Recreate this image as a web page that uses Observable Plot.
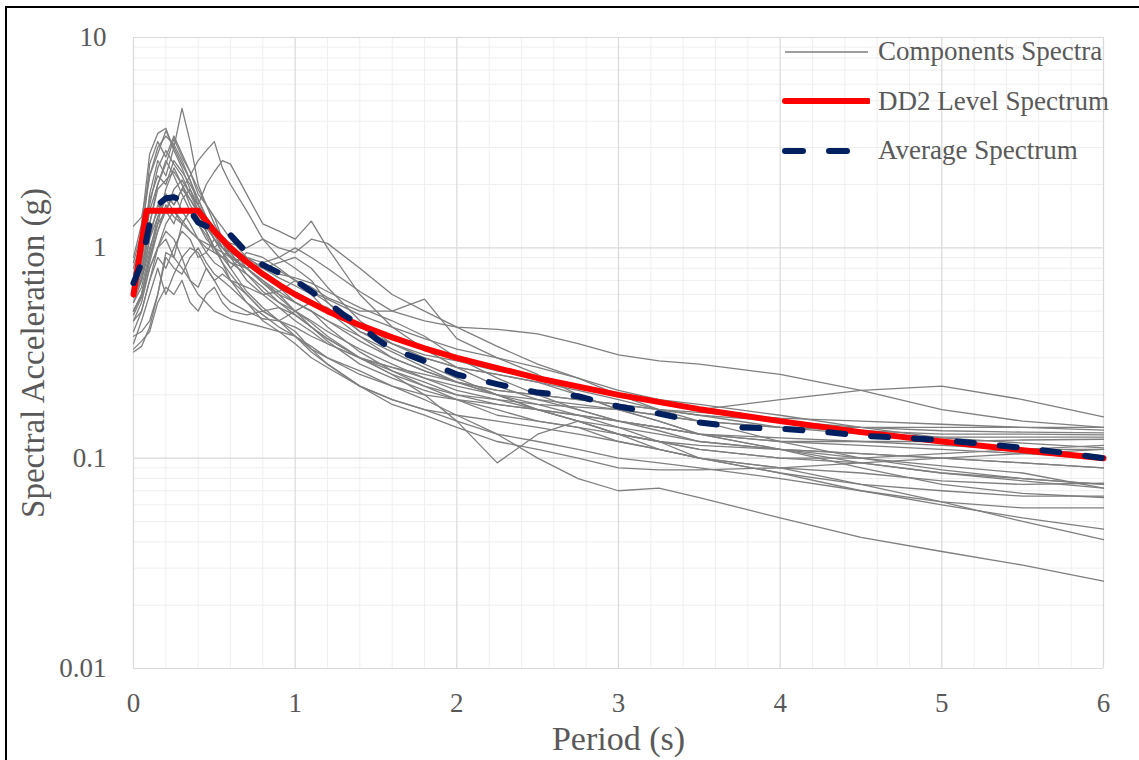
<!DOCTYPE html>
<html>
<head>
<meta charset="utf-8">
<script src="https://cdn.jsdelivr.net/npm/d3@7"></script>
<script src="https://cdn.jsdelivr.net/npm/@observablehq/plot@0.6"></script>
<style>
  html, body { margin: 0; padding: 0; background: #fff; }
  #wrap { position: relative; width: 1139px; height: 760px; overflow: hidden; font-family: "Liberation Serif", "Times New Roman", serif; }
  #frameTop { position: absolute; left: 5px; top: 6px; width: 1134px; height: 0; border-top: 2px solid #000; }
  #frameLeft { position: absolute; left: 5px; top: 6px; width: 0; height: 754px; border-left: 2px solid #000; }
  #legend { position: absolute; left: 782px; top: 27px; font-size: 27px; color: #595959; }
  #legend .row { display: flex; align-items: center; height: 49.5px; }
  #legend svg { display: block; margin-right: 8px; }
</style>
</head>
<body>
<div id="wrap">
  <div id="chart"></div>
  <div id="frameTop"></div>
  <div id="frameLeft"></div>
  <div id="legend"></div>
</div>
<script>
// ---------- data ----------
const periods = [0, 0.05, 0.1, 0.15, 0.2, 0.25, 0.3, 0.35, 0.4, 0.45, 0.5, 0.55, 0.6, 0.7, 0.8, 0.9, 1.0, 1.1, 1.2, 1.4, 1.6, 1.8, 2.0, 2.25, 2.5, 2.75, 3.0, 3.25, 3.5, 4.0, 4.5, 5.0, 5.5, 6.0];

const comp01 = [0.7,0.9,1.8,2.6,2.2,3.0,4.6,3.2,2.0,1.6,1.4,1.1,1.0,0.8,0.7,0.62,0.55,0.5,0.42,0.32,0.26,0.22,0.19,0.16,0.15,0.14,0.13,0.12,0.115,0.11,0.105,0.1,0.095,0.09];
const comp02 = [0.6,0.75,1.2,1.5,1.8,1.6,1.9,2.2,2.6,2.9,3.2,2.4,2.0,1.5,1.1,0.9,0.8,0.7,0.55,0.4,0.33,0.28,0.24,0.2,0.17,0.15,0.13,0.12,0.11,0.1,0.095,0.085,0.08,0.075];
const comp03 = [0.5,0.6,0.9,1.2,1.5,1.3,1.7,1.9,1.6,2.0,2.3,2.6,2.5,1.8,1.3,1.2,1.1,1.34,1.0,0.6,0.42,0.33,0.27,0.22,0.19,0.17,0.15,0.135,0.12,0.11,0.1,0.092,0.085,0.072];
const comp04 = [0.9,1.3,2.8,3.5,3.7,2.9,2.4,1.9,1.5,1.2,1.0,0.85,0.75,0.6,0.5,0.45,0.4,0.33,0.28,0.22,0.19,0.17,0.15,0.13,0.12,0.11,0.1,0.095,0.09,0.08,0.07,0.062,0.058,0.058];
const comp05 = [0.8,1.1,2.5,3.2,2.7,3.4,2.8,2.3,1.8,1.6,1.3,1.1,0.95,0.75,0.62,0.55,0.5,0.45,0.4,0.33,0.28,0.24,0.22,0.2,0.19,0.18,0.17,0.16,0.15,0.14,0.135,0.13,0.13,0.129];
const comp06 = [1.27,1.4,2.2,3.0,3.4,3.1,2.6,2.1,1.7,1.4,1.25,1.05,0.9,0.7,0.6,0.52,0.45,0.4,0.35,0.3,0.27,0.25,0.23,0.21,0.2,0.19,0.18,0.17,0.165,0.155,0.15,0.145,0.14,0.136];
const comp07 = [0.32,0.34,0.42,0.6,0.9,0.8,0.75,0.9,1.0,0.85,0.75,0.7,0.65,0.55,0.48,0.42,0.38,0.33,0.3,0.26,0.22,0.19,0.16,0.13,0.1,0.08,0.07,0.072,0.065,0.052,0.042,0.036,0.031,0.026];
const comp08 = [0.35,0.45,0.6,0.8,0.6,0.75,0.9,0.7,0.65,0.8,0.7,0.6,0.55,0.5,0.46,0.45,0.5,0.55,0.52,0.4,0.35,0.31,0.29,0.26,0.24,0.22,0.2,0.19,0.17,0.19,0.21,0.22,0.19,0.157];
const comp09 = [0.6,0.7,1.1,1.4,1.7,1.5,1.3,1.2,1.1,1.0,0.95,0.9,0.85,0.8,0.85,0.9,1.0,0.9,0.8,0.62,0.5,0.45,0.42,0.41,0.39,0.35,0.31,0.29,0.28,0.25,0.21,0.17,0.15,0.14];
const comp10 = [0.45,0.55,0.8,1.0,1.2,1.1,0.9,1.0,0.95,0.8,0.7,0.75,0.7,0.65,0.6,0.62,0.7,0.65,0.58,0.5,0.5,0.57,0.37,0.3,0.25,0.2,0.17,0.15,0.13,0.11,0.09,0.075,0.068,0.065];
const comp11 = [0.55,0.7,1.0,1.3,1.5,1.8,1.5,1.3,1.1,0.95,0.85,0.8,0.7,0.6,0.5,0.45,0.42,0.38,0.35,0.3,0.25,0.2,0.15,0.095,0.13,0.15,0.14,0.13,0.12,0.11,0.105,0.1,0.095,0.09];
const comp12 = [0.5,0.6,0.9,1.3,1.9,2.4,2.0,1.6,1.4,1.2,1.0,0.85,0.7,0.55,0.45,0.4,0.35,0.3,0.27,0.22,0.19,0.17,0.16,0.15,0.14,0.13,0.12,0.11,0.1,0.09,0.085,0.078,0.075,0.076];
const comp13 = [0.7,0.95,1.6,2.4,2.9,2.5,2.2,1.8,1.5,1.3,1.15,1.0,0.9,0.8,0.7,0.6,0.5,0.42,0.36,0.28,0.24,0.21,0.19,0.18,0.17,0.16,0.15,0.14,0.13,0.12,0.12,0.12,0.122,0.123];
const comp14 = [0.4,0.5,0.7,0.9,0.8,1.0,1.2,1.1,0.9,0.95,1.1,1.0,0.9,0.85,0.75,0.65,0.55,0.5,0.45,0.38,0.32,0.27,0.23,0.2,0.17,0.15,0.13,0.12,0.11,0.1,0.1,0.105,0.11,0.115];
const comp15 = [0.65,0.8,1.3,2.0,2.5,3.3,2.7,2.3,1.9,1.6,1.4,1.25,1.1,0.9,0.8,0.72,0.66,0.6,0.5,0.38,0.3,0.26,0.23,0.2,0.18,0.16,0.14,0.12,0.1,0.09,0.075,0.062,0.05,0.041];
const comp16 = [0.75,1.0,1.7,2.2,2.0,2.6,2.3,2.0,1.7,1.4,1.2,1.0,0.92,0.8,0.68,0.58,0.5,0.44,0.38,0.3,0.25,0.22,0.2,0.19,0.18,0.175,0.17,0.16,0.15,0.14,0.14,0.14,0.14,0.14];
const comp17 = [0.55,0.65,0.95,1.4,1.8,1.6,1.9,1.7,1.5,1.3,1.1,0.95,0.85,0.75,0.65,0.55,0.48,0.42,0.37,0.3,0.26,0.23,0.2,0.18,0.17,0.15,0.13,0.11,0.1,0.085,0.07,0.06,0.052,0.046];
const comp18 = [0.48,0.58,0.8,1.0,1.3,1.5,1.35,1.2,1.1,1.05,1.0,0.95,0.9,0.8,0.68,0.6,0.55,0.5,0.45,0.36,0.3,0.26,0.23,0.21,0.2,0.19,0.18,0.17,0.16,0.15,0.14,0.135,0.133,0.132];
const comp19 = [0.85,1.2,2.2,2.8,3.6,3.0,2.5,2.1,1.6,1.3,1.1,0.95,0.8,0.62,0.52,0.45,0.38,0.32,0.28,0.22,0.18,0.16,0.14,0.12,0.11,0.1,0.09,0.088,0.088,0.09,0.095,0.1,0.105,0.11];
const comp20 = [0.38,0.4,0.45,0.6,0.95,0.9,0.8,0.7,0.6,0.55,0.5,0.48,0.46,0.44,0.42,0.4,0.38,0.34,0.3,0.25,0.22,0.2,0.19,0.17,0.15,0.14,0.12,0.11,0.1,0.085,0.075,0.07,0.066,0.066];
const comp21 = [0.62,0.78,1.3,1.9,2.1,2.3,2.0,1.7,1.45,1.25,1.1,1.0,0.95,0.9,0.85,0.78,0.7,0.62,0.55,0.42,0.35,0.3,0.27,0.25,0.23,0.21,0.19,0.17,0.16,0.14,0.13,0.126,0.126,0.126];
const comp22 = [0.58,0.72,1.1,1.6,1.5,1.9,2.1,1.8,1.6,1.4,1.2,1.05,0.95,0.85,0.8,0.85,0.9,0.8,0.65,0.45,0.35,0.3,0.27,0.25,0.23,0.2,0.17,0.15,0.13,0.11,0.095,0.085,0.078,0.072];
const comp23 = [0.5,0.6,0.85,1.2,1.6,1.4,1.3,1.5,1.3,1.1,1.0,1.1,1.05,1.0,1.1,1.0,0.95,1.1,1.05,0.8,0.6,0.5,0.42,0.34,0.28,0.24,0.2,0.17,0.15,0.12,0.1,0.088,0.08,0.075];
const comp24 = [0.33,0.36,0.4,0.55,0.65,0.6,0.7,0.55,0.5,0.6,0.65,0.55,0.5,0.48,0.5,0.52,0.48,0.42,0.37,0.3,0.27,0.24,0.21,0.19,0.17,0.16,0.15,0.14,0.13,0.12,0.115,0.11,0.105,0.1];
const comp25 = [0.65,0.85,1.5,2.0,2.6,2.2,1.8,1.5,1.3,1.15,0.95,0.9,1.0,0.9,0.8,0.75,0.72,0.68,0.62,0.52,0.45,0.38,0.3,0.24,0.2,0.17,0.15,0.14,0.13,0.125,0.12,0.115,0.11,0.11];
const comp26 = [0.45,0.5,0.7,1.0,1.1,0.9,1.3,1.5,1.35,1.2,1.0,0.9,0.8,0.95,0.9,0.8,0.7,0.62,0.57,0.48,0.42,0.37,0.33,0.3,0.27,0.24,0.21,0.19,0.18,0.16,0.14,0.125,0.118,0.112];

const ddPeriods = [0, 0.08, 0.4, 0.5, 0.6, 0.7, 0.8, 0.9, 1.0, 1.2, 1.4, 1.6, 1.8, 2.0, 2.5, 3.0, 3.5, 4.0, 4.5, 5.0, 5.5, 6.0];
const ddValues  = [0.6, 1.5, 1.5, 1.2, 1.0, 0.857, 0.75, 0.667, 0.6, 0.5, 0.429, 0.375, 0.333, 0.3, 0.24, 0.2, 0.171, 0.15, 0.133, 0.12, 0.109, 0.1];

const avgPeriods = [0,0.05,0.1,0.15,0.2,0.25,0.3,0.35,0.4,0.5,0.6,0.7,0.8,0.9,1.0,1.1,1.2,1.3,1.4,1.5,1.6,1.8,2.0,2.25,2.5,2.75,3.0,3.25,3.5,3.75,4.0,4.25,4.5,4.75,5.0,5.25,5.5,5.75,6.0];
const avgValues  = [0.68,0.85,1.3,1.6,1.72,1.74,1.68,1.5,1.32,1.22,1.15,0.95,0.83,0.76,0.70,0.62,0.55,0.48,0.43,0.37,0.33,0.29,0.25,0.225,0.205,0.197,0.176,0.163,0.148,0.14,0.138,0.134,0.128,0.125,0.122,0.117,0.112,0.106,0.10];

const xTicks = [0, 1, 2, 3, 4, 5, 6];
const xMinor = [0.2,0.4,0.6,0.8,1.2,1.4,1.6,1.8,2.2,2.4,2.6,2.8,3.2,3.4,3.6,3.8,4.2,4.4,4.6,4.8,5.2,5.4,5.6,5.8];
const yTicks = [0.01, 0.1, 1, 10];
const yTickLabels = ["0.01", "0.1", "1", "10"];
const yMinor = [0.02,0.03,0.04,0.05,0.06,0.07,0.08,0.09,0.2,0.3,0.4,0.5,0.6,0.7,0.8,0.9,2,3,4,5,6,7,8,9];

const seriesNames = ["Components Spectra", "DD2 Level Spectrum", "Average Spectrum"];
const xTitle = "Period (s)";
const yTitle = "Spectral Acceleration (g)";

// ---------- build ----------
const components = [comp01,comp02,comp03,comp04,comp05,comp06,comp07,comp08,comp09,comp10,comp11,comp12,comp13,comp14,comp15,comp16,comp17,comp18,comp19,comp20,comp21,comp22,comp23,comp24,comp25,comp26];
const compRows = components.flatMap((vals, i) => vals.map((v, j) => ({id: i, T: periods[j], Sa: v})));
const ddRows = ddPeriods.map((t, i) => ({T: t, Sa: ddValues[i]}));
const avgRows = avgPeriods.map((t, i) => ({T: t, Sa: avgValues[i]}));
const yLabelMap = new Map(yTicks.map((t, i) => [t, yTickLabels[i]]));

const GRID_MAJOR = "#d9d9d9", GRID_MINOR = "#efefef";
const GRAY = "#7f7f7f", RED = "#ff0000", NAVY = "#002060";

const chart = Plot.plot({
  width: 1139,
  height: 760,
  marginLeft: 133,
  marginRight: 36,
  marginTop: 37,
  marginBottom: 92,
  x: {domain: [0, 6]},
  y: {type: "log", domain: [0.01, 10]},
  style: {fontFamily: "'Liberation Serif', 'Times New Roman', serif", fontSize: "27px", color: "#595959", background: "transparent"},
  marks: [
    Plot.ruleX(xMinor, {stroke: GRID_MINOR, strokeWidth: 1}),
    Plot.ruleY(yMinor, {stroke: GRID_MINOR, strokeWidth: 1}),
    Plot.ruleX(xTicks, {stroke: GRID_MAJOR, strokeWidth: 1.2}),
    Plot.ruleY(yTicks, {stroke: GRID_MAJOR, strokeWidth: 1.2}),
    Plot.line(compRows, {x: "T", y: "Sa", z: "id", stroke: GRAY, strokeWidth: 1.3}),
    Plot.line(ddRows, {x: "T", y: "Sa", stroke: RED, strokeWidth: 6, strokeLinejoin: "round", strokeLinecap: "round"}),
    Plot.line(avgRows, {x: "T", y: "Sa", stroke: NAVY, strokeWidth: 6, strokeDasharray: "17,26", strokeLinecap: "round", strokeLinejoin: "round"}),
    Plot.axisX({ticks: xTicks, tickSize: 0, tickPadding: 24, label: null, fontSize: 27, tickFormat: d => String(d)}),
    Plot.axisY({ticks: yTicks, tickSize: 0, tickPadding: 27, label: null, fontSize: 27, tickFormat: d => yLabelMap.get(d)}),
    Plot.text([xTitle], {frameAnchor: "bottom", lineAnchor: "middle", textAnchor: "middle", dy: 71, fontSize: 34, fill: "#595959"}),
    Plot.text([yTitle], {frameAnchor: "left", lineAnchor: "middle", textAnchor: "middle", rotate: -90, dx: -100, fontSize: 33, fill: "#595959"})
  ]
});
document.getElementById("chart").appendChild(chart);

// ---------- legend ----------
const legend = document.getElementById("legend");
const swatches = [
  `<line x1="3" y1="6" x2="86" y2="6" stroke="${GRAY}" stroke-width="1.3"/>`,
  `<line x1="3" y1="6" x2="86" y2="6" stroke="${RED}" stroke-width="6" stroke-linecap="round"/>`,
  `<line x1="3" y1="6" x2="72" y2="6" stroke="${NAVY}" stroke-width="6" stroke-linecap="round" stroke-dasharray="18,26"/>`
];
seriesNames.forEach((name, i) => {
  const row = document.createElement("div");
  row.className = "row";
  row.innerHTML = `<svg width="88" height="12">${swatches[i]}</svg><span>${name}</span>`;
  legend.appendChild(row);
});
</script>
</body>
</html>
